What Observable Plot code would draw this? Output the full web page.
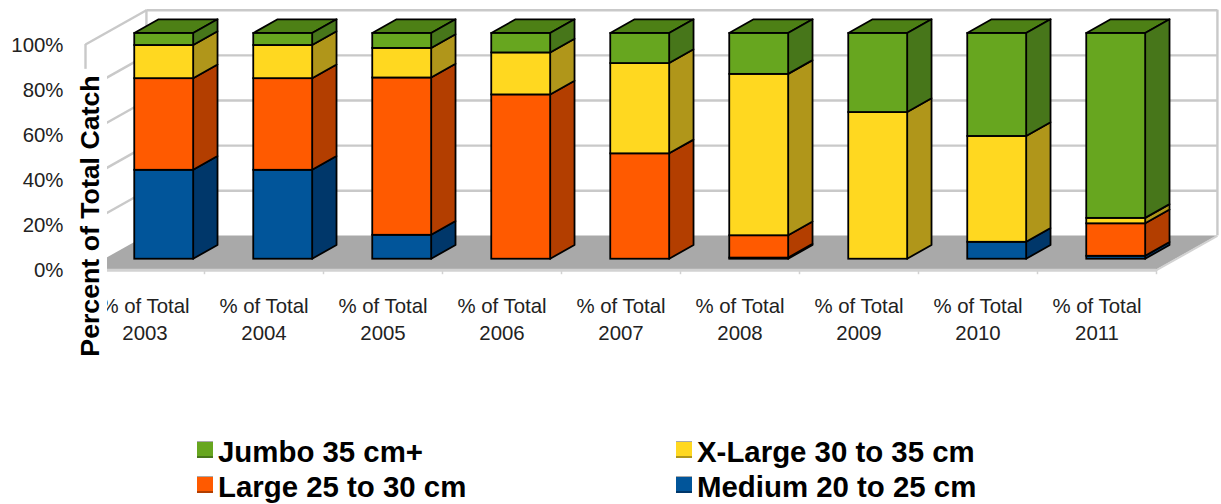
<!DOCTYPE html>
<html>
<head>
<meta charset="utf-8">
<script src="https://cdn.jsdelivr.net/npm/d3@7"></script>
<script src="https://cdn.jsdelivr.net/npm/@observablehq/plot@0.6"></script>
<style>
html,body{margin:0;padding:0;background:#fff;overflow:hidden}
svg{display:block}
#legend{display:grid;grid-template-columns:479px 400px;grid-auto-rows:35px;margin-left:197px;
  font:bold 29.4px "Liberation Sans",Arial,sans-serif;color:#000}
#legend div{display:flex;align-items:center;height:35px;line-height:35px;white-space:nowrap}
#legend i{display:block;box-sizing:border-box;width:16px;height:17px;margin-right:5px;margin-top:-4px;
  border-top:1px solid #aaa;border-bottom:2px solid}
</style>
</head>
<body>
<div id="chart"></div>
<div id="legend"></div>
<script>
const years = [2003,2004,2005,2006,2007,2008,2009,2010,2011];
const medium = [39.4,39.4,10.6,0,0,0.5,0,7.5,1.3];
const large  = [40.6,40.6,69.7,72.8,46.7,9.9,0,0,14.4];
const xlarge = [14.7,14.7,13.1,18.6,40,71.5,65,46.9,2.4];
const jumbo  = [5.3,5.3,6.6,8.6,13.3,18.1,35,45.6,81.9];
const seriesNames = ["Medium 20 to 25 cm","Large 25 to 30 cm","X-Large 30 to 35 cm","Jumbo 35 cm+"];
const seriesValues = [medium,large,xlarge,jumbo];
const frontColors = ["#01559a","#ff5a00","#ffd820","#67a61f"];
const sideColors  = ["#00376a","#b33e00","#b0961a","#47761a"];
const topColor = "#4d8015";
const yTicks = [0,20,40,60,80,100];
const gridVals = [20,40,60,80,100];
const grey = "#c9c9c9";

// oblique projection: depth d (0 front .. 1 back wall) shifts x in category units and y in percent
const DX = 0.512, DY = 15.2;
const px = (c,d) => c + d*DX;
const py = (v,d) => v + d*DY;
const D0 = 0.32, D1 = 0.72, BW0 = 0.25, BW1 = 0.745;

const fronts = [], sides = [], tops = [];
years.forEach((yr,i) => {
  let base = 0;
  seriesValues.forEach((vals,s) => {
    const v = vals[i];
    if (v > 0) {
      const t = base + v;
      fronts.push({x1:px(i+BW0,D0), x2:px(i+BW1,D0), y1:py(base,D0), y2:py(t,D0), s});
      const z = `${yr}-${s}`;
      sides.push({x:px(i+BW1,D0), y1:py(base,D0), y2:py(t,D0), s, z});
      sides.push({x:px(i+BW1,D1), y1:py(base,D1), y2:py(t,D1), s, z});
      base = t;
    }
  });
  tops.push({y:py(base,D0), x1:px(i+BW0,D0), x2:px(i+BW1,D0), z:yr});
  tops.push({y:py(base,D1), x1:px(i+BW0,D1), x2:px(i+BW1,D1), z:yr});
});

const n = years.length;
const backLines = gridVals.map(v => ({x1:px(0,1), x2:px(n,1), y1:py(v,1), y2:py(v,1)}));
const leftLines = gridVals.map(v => ({x1:px(0,0), x2:px(0,1), y1:py(v,0), y2:py(v,1)}));
const floor = [{y:py(0,0), x1:px(0,0), x2:px(n,0)}, {y:py(0,1), x1:px(0,1), x2:px(n,1)}];
const labels = years.map((yr,i) => ({x:i+0.5, t:`% of Total\n${yr}`}));

const plot = Plot.plot({
  width:1221, height:434, marginLeft:85, marginTop:0, marginRight:0, marginBottom:0,
  x:{type:"linear", domain:[0,n], range:[85,1156], axis:null},
  y:{type:"linear", domain:[0,100], range:[269.7,44], axis:null},
  style:{fontFamily:'"Liberation Sans",Arial,sans-serif', background:"#fff", overflow:"visible"},
  marks:[
    Plot.link(backLines,{x1:"x1",x2:"x2",y1:"y1",y2:"y2",stroke:grey,strokeWidth:2.4}),
    Plot.link(leftLines,{x1:"x1",x2:"x2",y1:"y1",y2:"y2",stroke:grey,strokeWidth:2.4}),
    Plot.ruleX([px(0,1),px(n,1)],{y1:py(0,1),y2:py(100,1),stroke:grey,strokeWidth:2.4}),
    Plot.ruleX([px(0,0)],{y1:0,y2:100,stroke:grey,strokeWidth:2.4}),
    Plot.areaX(floor,{y:"y",x1:"x1",x2:"x2",fill:"#a9a9a9"}),
    Plot.ruleY([0],{x1:0,x2:n,stroke:"#d2d2d2",strokeWidth:3}),
    Plot.link([{x1:n,x2:px(n,1),y1:0,y2:py(0,1)}],{x1:"x1",x2:"x2",y1:"y1",y2:"y2",stroke:"#d2d2d2",strokeWidth:2}),
    Plot.ruleX(d3.range(n+1),{y1:0,y2:-2,stroke:"#d2d2d2",strokeWidth:1.5}),
    Plot.areaX(tops,{y:"y",x1:"x1",x2:"x2",z:"z",fill:topColor,stroke:"#000",strokeWidth:1.8,strokeLinejoin:"round"}),
    Plot.areaY(sides,{x:"x",y1:"y1",y2:"y2",z:"z",fill:d=>sideColors[d.s],stroke:"#000",strokeWidth:1.8,strokeLinejoin:"round"}),
    Plot.rect(fronts,{x1:"x1",x2:"x2",y1:"y1",y2:"y2",fill:d=>frontColors[d.s],stroke:"#000",strokeWidth:1.8}),
    Plot.axisY({ticks:yTicks,tickFormat:d=>d+"%",tickSize:0,tickPadding:22,fontSize:20.4,label:null,anchor:"left",color:"#222",dy:0.5}),
    Plot.text(labels,{x:"x",y:-21,text:"t",fontSize:20.4,lineHeight:1.32,fill:"#222",textAnchor:"middle"}),
    Plot.rect([{}],{x1:-0.126,x2:0.185,y1:-40,y2:89,fill:"#fff"}),
    Plot.text(["Percent of Total Catch"],{x:0.045,y:24,text:d=>d,rotate:-90,fontSize:26.7,fontWeight:"bold",fill:"#000"})
  ]
});
document.getElementById("chart").append(plot);

const legend = document.getElementById("legend");
[3,2,1,0].forEach(s => {
  const row = document.createElement("div");
  const sw = document.createElement("i");
  sw.style.background = frontColors[s];
  sw.style.borderBottomColor = sideColors[s];
  row.append(sw, seriesNames[s]);
  legend.append(row);
});
</script>
</body>
</html>
